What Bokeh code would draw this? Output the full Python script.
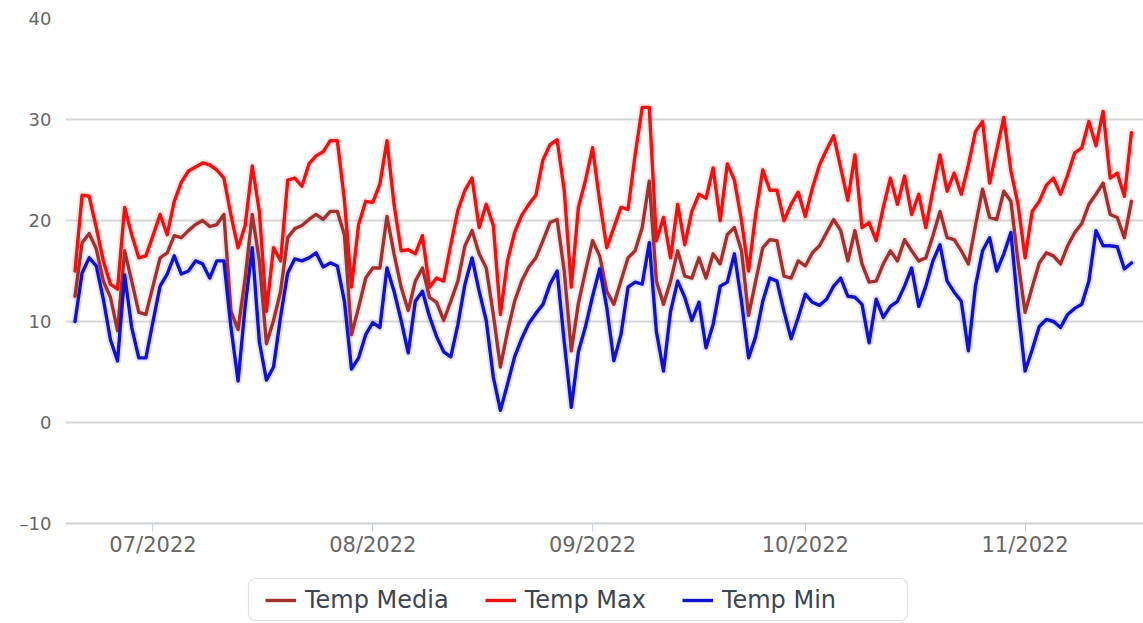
from bokeh.plotting import figure
from bokeh.layouts import column
from bokeh.models import (Range1d, FixedTicker, DatetimeTickFormatter, Legend,
                          LegendItem, ColumnDataSource, BoxAnnotation,
                          CustomJSTickFormatter)
from bokeh.embed import file_html
from bokeh.resources import INLINE
import pandas as pd

# ---------------- data (daily, from 2022-06-20) ----------------
start_date = "2022-06-20"

temp_media = [
    12.5, 17.8, 18.7, 17.2, 14, 12.4, 9.1, 17, 14, 10.9,
    10.7, 13.5, 16.3, 16.8, 18.5, 18.3, 19, 19.6, 20, 19.4,
    19.6, 20.6, 11, 9.2, 14.3, 20.6, 16, 7.8, 10.1, 13,
    18.3, 19.2, 19.5, 20.1, 20.6, 20.1, 20.9, 20.9, 18.6, 8.7,
    11.4, 14.3, 15.3, 15.3, 20.4, 16.7, 13.4, 11.1, 14, 15.3,
    12.4, 11.9, 10.1, 12, 14, 17.5, 19, 16.7, 15.3, 10.7,
    5.5, 9, 12, 14, 15.4, 16.3, 18, 19.8, 20.1, 15,
    7.1, 11.8, 15, 18, 16.5, 13, 11.7, 14, 16.3, 17,
    19.3, 23.9, 14, 11.7, 14, 17, 14.5, 14.3, 16.3, 14.3,
    16.7, 15.7, 18.6, 19.3, 17, 10.6, 14, 17.3, 18.1, 18,
    14.5, 14.3, 16, 15.5, 16.8, 17.5, 18.8, 20.1, 19, 16,
    19, 15.7, 13.9, 14, 15.7, 17, 16, 18.1, 17, 16,
    16.3, 18.5, 20.9, 18.3, 18.1, 17, 15.7, 19.5, 23.1, 20.3,
    20.1, 22.9, 21.9, 16, 10.9, 13.4, 15.8, 16.8, 16.5, 15.7,
    17.5, 18.8, 19.7, 21.6, 22.6, 23.7, 20.6, 20.3, 18.3, 21.9,
]

temp_max = [
    15, 22.5, 22.4, 19.3, 16, 13.7, 13.2, 21.3, 18.6, 16.3,
    16.5, 18.5, 20.6, 18.6, 21.9, 23.8, 24.9, 25.3, 25.7, 25.5,
    25, 24.2, 20.5, 17.3, 19.5, 25.4, 20.9, 11, 17.3, 16,
    24, 24.2, 23.4, 25.6, 26.4, 26.8, 27.9, 27.9, 22, 13.4,
    19.6, 21.9, 21.8, 23.6, 27.9, 21.6, 17, 17.1, 16.7, 18.5,
    13.4, 14.3, 14, 17.6, 21, 23, 24.2, 19.3, 21.6, 19.5,
    10.7, 16, 18.8, 20.5, 21.6, 22.5, 26, 27.5, 28, 23,
    13.4, 21.3, 24, 27.2, 21.9, 17.3, 19.3, 21.3, 21.1, 26.5,
    31.2, 31.2, 18, 20.3, 16.3, 21.6, 17.6, 20.9, 22.6, 22.2,
    25.2, 20, 25.6, 24, 20, 15, 20.6, 25, 23, 23,
    20, 21.6, 22.8, 20.4, 23.2, 25.5, 27, 28.4, 25.2, 22,
    26.5, 19.3, 19.8, 18, 21.3, 24.2, 21.6, 24.4, 20.6, 22.6,
    19.3, 23, 26.5, 22.9, 24.7, 22.6, 25.5, 28.8, 29.8, 23.7,
    27, 30.2, 24.9, 21.6, 16.3, 20.9, 21.9, 23.5, 24.2, 22.6,
    24.5, 26.7, 27.2, 29.8, 27.4, 30.8, 24.2, 24.7, 22.4, 28.7,
]

temp_min = [
    10, 14.8, 16.3, 15.5, 12.2, 8.2, 6.1, 14.6, 9.4, 6.4,
    6.4, 10, 13.5, 14.7, 16.5, 14.7, 15, 16, 15.7, 14.3,
    16, 16, 9.4, 4.1, 11.5, 17.3, 8, 4.2, 5.5, 10.5,
    14.8, 16.2, 16, 16.3, 16.8, 15.4, 15.8, 15.5, 12, 5.3,
    6.4, 8.7, 9.9, 9.4, 15.3, 13, 10.1, 6.9, 12, 13,
    10.5, 8.5, 7, 6.5, 9.7, 13.7, 16.3, 13, 10.1, 4.5,
    1.2, 3.8, 6.5, 8.3, 9.8, 10.8, 11.7, 13.7, 15, 8,
    1.5, 7, 9.5, 12.5, 15.2, 11.4, 6.1, 8.7, 13.4, 13.9,
    13.7, 17.8, 9, 5.1, 11, 14, 12.4, 10.1, 11.9, 7.4,
    9.7, 13.5, 13.9, 16.7, 12, 6.4, 8.5, 12, 14.3, 14,
    11, 8.3, 10.4, 12.7, 11.9, 11.6, 12.2, 13.5, 14.3, 12.5,
    12.4, 11.7, 7.9, 12.2, 10.4, 11.5, 12, 13.5, 15.3, 11.5,
    13.5, 16, 17.6, 14, 12.9, 12, 7.1, 13.5, 17, 18.3,
    15, 16.7, 18.8, 11.4, 5.1, 7.2, 9.5, 10.2, 10, 9.4,
    10.7, 11.3, 11.7, 14, 19, 17.5, 17.5, 17.4, 15.2, 15.8,
]

month_ticks = ["2022-07-01", "2022-08-01", "2022-09-01", "2022-10-01", "2022-11-01"]
y_ticks = [-10, 0, 10, 20, 30, 40]
series_labels = ["Temp Media", "Temp Max", "Temp Min"]
series_colors = ["#a3302e", "#ee1111", "#1212cc"]

# ---------------- helpers ----------------
EPOCH = pd.Timestamp("1970-01-01")
MS = pd.Timedelta(milliseconds=1)


def to_ms(t):
    return (pd.Timestamp(t) - EPOCH) / MS


dates = pd.date_range(start_date, periods=len(temp_max), freq="D")
src = ColumnDataSource(dict(date=dates, media=temp_media, tmax=temp_max, tmin=temp_min))

t0 = pd.Timestamp(start_date)
x_start = to_ms(t0 - pd.Timedelta(days=1.34))
x_end = to_ms(t0 + pd.Timedelta(days=150.7))

W = 1143
H_CHART = 577
H_LEG = 46
FRAME_LEFT = 65
FONT = "DejaVu Sans"

# ---------------- main chart ----------------
p = figure(width=W, height=H_CHART, x_axis_type="datetime",
           x_range=Range1d(x_start, x_end), y_range=Range1d(-10, 40),
           output_backend="svg", toolbar_location=None,
           min_border_left=FRAME_LEFT, min_border_right=0, min_border_top=18,
           min_border_bottom=H_CHART - 523)
p.outline_line_color = None
p.background_fill_color = "white"
p.border_fill_color = "white"

# y axis
p.yaxis.ticker = FixedTicker(ticks=y_ticks)
p.yaxis.formatter = CustomJSTickFormatter(
    code="return tick < 0 ? '\\u2013' + Math.abs(tick) : String(tick);")
p.yaxis.axis_line_color = None
p.yaxis.major_tick_line_color = None
p.yaxis.major_tick_out = 0
p.yaxis.major_tick_in = 0
p.yaxis.minor_tick_line_color = None
p.yaxis.minor_tick_out = 0
p.yaxis.major_label_standoff = 14
p.yaxis.major_label_text_font = FONT
p.yaxis.major_label_text_font_size = "18px"
p.yaxis.major_label_text_color = "#666666"
p.ygrid.ticker = FixedTicker(ticks=y_ticks)
p.ygrid.grid_line_color = "#d6d6d6"
p.ygrid.grid_line_width = 2

# x axis
p.xaxis.ticker = FixedTicker(ticks=[to_ms(m) for m in month_ticks])
p.xaxis.formatter = DatetimeTickFormatter(days="%m/%Y", months="%m/%Y", years="%m/%Y",
                                          hours="%m/%Y", minutes="%m/%Y")
p.xaxis.axis_line_color = "#cfcfcf"
p.xaxis.axis_line_width = 2
p.xaxis.major_tick_line_color = "#c0d0e0"
p.xaxis.major_tick_out = 8
p.xaxis.major_tick_in = 0
p.xaxis.minor_tick_line_color = None
p.xaxis.major_label_standoff = 1
p.xaxis.major_label_text_font = FONT
p.xaxis.major_label_text_font_size = "21px"
p.xaxis.major_label_text_color = "#666666"
p.xgrid.grid_line_color = None

cols = ["media", "tmax", "tmin"]
for col, color in zip(cols, series_colors):
    p.line("date", col, source=src, line_color=color, line_width=7.5, line_alpha=0.12,
           line_join="round", line_cap="round")
for col, color in zip(cols, series_colors):
    p.line("date", col, source=src, line_color=color, line_width=3.4,
           line_join="round", line_cap="round")

# ---------------- legend strip (screen-like coordinates) ----------------
lf = figure(width=W, height=H_LEG, x_range=Range1d(FRAME_LEFT, W), y_range=Range1d(0, H_LEG),
            output_backend="svg", toolbar_location=None,
            x_axis_location=None, y_axis_location=None,
            min_border_left=FRAME_LEFT, min_border_right=0,
            min_border_top=0, min_border_bottom=0)
lf.outline_line_color = None
lf.grid.grid_line_color = None
lf.background_fill_color = "white"
lf.border_fill_color = "white"

box = BoxAnnotation(left=248, right=907, bottom=3, top=45,
                    fill_color="white", fill_alpha=1.0,
                    line_color="#9a9a9a", line_width=1.2)
if "border_radius" in BoxAnnotation.properties():
    box.border_radius = 7
lf.add_layout(box)

nan = float("nan")
leg_renderers = [lf.line([nan], [nan], line_color=c, line_width=3.4) for c in series_colors]
legend = Legend(items=[LegendItem(label=lab, renderers=[r])
                       for lab, r in zip(series_labels, leg_renderers)],
                orientation="horizontal", location=(265 - FRAME_LEFT, 9))
legend.label_text_font = FONT
legend.label_text_font_size = "24px"
legend.label_text_color = "#3b4552"
legend.glyph_width = 31
legend.glyph_height = 24
legend.label_standoff = 9
legend.spacing = 36
legend.padding = 7
legend.margin = 0
legend.border_line_color = None
legend.background_fill_alpha = 0
lf.add_layout(legend, "center")

layout = column(p, lf, spacing=0)
open("out.html", "w").write(file_html(layout, INLINE))
